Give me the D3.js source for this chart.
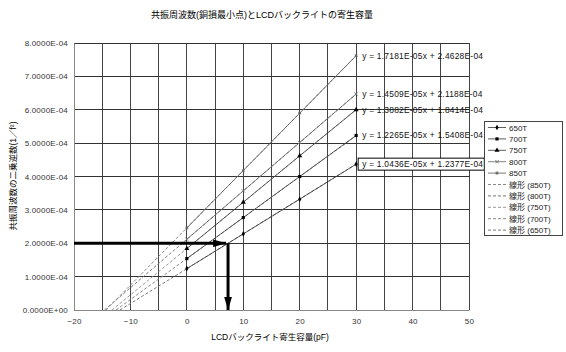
<!DOCTYPE html>
<html lang="ja">
<head>
    <meta charset="UTF-8">
    <script src="https://cdnjs.cloudflare.com/ajax/libs/d3/7.8.5/d3.min.js"></script>
    <style>
        body { margin: 0; background: #fff; }
        svg { font-family: "Liberation Sans", "Noto Sans CJK JP", sans-serif; }
    </style>
</head>
<body>
<svg id="chart" width="566" height="352"></svg>
<script>
    // values
    const capacitance = [0, 10, 20, 30];
    const seriesNames = ["650T", "700T", "750T", "800T", "850T"];
    const v650 = [1.24e-4, 2.28e-4, 3.32e-4, 4.37e-4];
    const v700 = [1.54e-4, 2.77e-4, 4.00e-4, 5.23e-4];
    const v750 = [1.84e-4, 3.23e-4, 4.62e-4, 6.00e-4];
    const v800 = [2.12e-4, 3.57e-4, 5.02e-4, 6.47e-4];
    const v850 = [2.46e-4, 4.18e-4, 5.90e-4, 7.62e-4];
    // trend line coefficients (slope, intercept) as printed on the chart
    const slopes = [1.0436e-5, 1.2265e-5, 1.3882e-5, 1.4509e-5, 1.7181e-5];
    const intercepts = [1.2377e-4, 1.5408e-4, 1.8414e-4, 2.1188e-4, 2.4628e-4];
    const eqLabels = [
        "y = 1.0436E-05x + 1.2377E-04",
        "y = 1.2265E-05x + 1.5408E-04",
        "y = 1.3882E-05x + 1.8414E-04",
        "y = 1.4509E-05x + 2.1188E-04",
        "y = 1.7181E-05x + 2.4628E-04"
    ];
    const xTicks = [-20, -10, 0, 10, 20, 30, 40, 50];
    const xGrid = d3.range(-20, 51, 5);
    const yTicks = [0, 1e-4, 2e-4, 3e-4, 4e-4, 5e-4, 6e-4, 7e-4, 8e-4];
    // guide arrow: 2.0E-04 meets the 650T fit
    const guideY = 2e-4;
    const guideX = 7.3;

    const allValues = [v650, v700, v750, v800, v850];

    const svg = d3.select("#chart");
    const x = d3.scaleLinear().domain([-20, 50]).range([74, 469]);
    const y = d3.scaleLinear().domain([0, 8e-4]).range([310, 43]);

    const fmtE = v => {
        const s = v.toExponential(4).toUpperCase();
        const [m, e] = s.split("E");
        const sign = e[0] === "-" ? "-" : "+";
        const n = Math.abs(+e);
        return m + "E" + sign + (n < 10 ? "0" + n : n);
    };

    // title
    svg.append("text")
        .attr("x", 262).attr("y", 18)
        .attr("text-anchor", "middle")
        .attr("font-size", 9)
        .text("共振周波数(銅損最小点)とLCDバックライトの寄生容量");

    // grid
    svg.append("g").selectAll("line.v")
        .data(xGrid).enter().append("line")
        .attr("x1", d => x(d)).attr("x2", d => x(d))
        .attr("y1", y(8e-4)).attr("y2", y(0))
        .attr("stroke", "#444").attr("stroke-width", 1)
        .attr("shape-rendering", "crispEdges");
    svg.append("g").selectAll("line.h")
        .data(yTicks).enter().append("line")
        .attr("x1", x(-20)).attr("x2", x(50))
        .attr("y1", d => y(d)).attr("y2", d => y(d))
        .attr("stroke", "#333").attr("stroke-width", 1)
        .attr("shape-rendering", "crispEdges");

    // axes
    const yAxis = d3.axisLeft(y).tickValues(yTicks).tickFormat(fmtE).tickSize(0).tickPadding(6);
    const xAxis = d3.axisBottom(x).tickValues(xTicks).tickSize(0).tickPadding(8);
    const gy = svg.append("g").attr("transform", `translate(${x(-20)},0)`).call(yAxis);
    const gx = svg.append("g").attr("transform", `translate(0,${y(0)})`).call(xAxis);
    [gx, gy].forEach(g => {
        g.select(".domain").attr("stroke", "#888");
        g.selectAll("text").attr("font-size", 8).attr("fill", "#333")
            .attr("letter-spacing", 0.2)
            .attr("font-family", "Liberation Sans, sans-serif");
    });

    svg.append("text")
        .attr("x", 270).attr("y", 340)
        .attr("text-anchor", "middle").attr("font-size", 8.5)
        .text("LCDバックライト寄生容量(pF)");
    svg.append("text")
        .attr("transform", "translate(16,176) rotate(-90)")
        .attr("text-anchor", "middle").attr("font-size", 8.5)
        .text("共振周波数の二乗逆数(1／f²)");

    // trend lines (dashed)
    const dashColors = ["#777", "#888", "#999", "#777", "#888"];
    seriesNames.forEach((n, i) => {
        const x0 = -intercepts[i] / slopes[i];
        svg.append("line")
            .attr("x1", x(x0)).attr("y1", y(0))
            .attr("x2", x(30)).attr("y2", y(slopes[i] * 30 + intercepts[i]))
            .attr("stroke", dashColors[i]).attr("stroke-width", 1)
            .attr("stroke-dasharray", "3,2");
    });

    // data lines
    const line = d3.line().x((d, i) => x(capacitance[i])).y(d => y(d));
    const lineColors = ["#333", "#333", "#333", "#666", "#555"];
    allValues.forEach((vals, i) => {
        svg.append("path")
            .attr("d", line(vals))
            .attr("fill", "none")
            .attr("stroke", lineColors[i]).attr("stroke-width", 0.8);
    });

    // markers
    const symTimes = d3.symbolTimes || d3.symbolCross;
    const symStar = d3.symbolAsterisk || d3.symbolStar;
    const markers = [
        { type: d3.symbolDiamond, size: 9, fill: "#000", stroke: "none" },
        { type: d3.symbolSquare, size: 10, fill: "#000", stroke: "none" },
        { type: d3.symbolTriangle, size: 11, fill: "#000", stroke: "none" },
        { type: symTimes, size: 8, fill: "none", stroke: "#777" },
        { type: symStar, size: 8, fill: "none", stroke: "#666" }
    ];
    const drawMarker = (g, m, cx, cy) => {
        g.append("path")
            .attr("d", d3.symbol().type(m.type).size(m.size)())
            .attr("transform", `translate(${cx},${cy})`)
            .attr("fill", m.fill).attr("stroke", m.stroke).attr("stroke-width", 1);
    };
    allValues.forEach((vals, i) => {
        vals.forEach((v, j) => drawMarker(svg, markers[i], x(capacitance[j]), y(v)));
    });

    // equation labels
    eqLabels.forEach((t, i) => {
        const lg = svg.append("g");
        const txt = lg.append("text")
            .attr("x", x(30) + 6).attr("y", y(allValues[i][3]) + 3)
            .attr("font-size", 8.4).attr("letter-spacing", 0.25).attr("fill", "#111")
            .text(t);
        if (i === 0) {
            const bb = txt.node().getBBox();
            lg.insert("rect", "text")
                .attr("x", bb.x - 4).attr("y", bb.y - 1)
                .attr("width", bb.width + 5).attr("height", bb.height + 2)
                .attr("fill", "#fff").attr("stroke", "#000").attr("stroke-width", 1);
        }
    });

    // guide arrows
    const defs = svg.append("defs");
    defs.append("marker")
        .attr("id", "head").attr("viewBox", "0 0 10 6")
        .attr("refX", 10).attr("refY", 3)
        .attr("markerWidth", 4.3).attr("markerHeight", 2.6)
        .attr("markerUnits", "strokeWidth")
        .attr("orient", "auto")
        .append("path").attr("d", "M0,0 L10,3 L0,6 Z").attr("fill", "#000");
    svg.append("line")
        .attr("x1", x(-20)).attr("y1", y(guideY))
        .attr("x2", x(guideX) - 2).attr("y2", y(guideY))
        .attr("stroke", "#000").attr("stroke-width", 3)
        .attr("marker-end", "url(#head)");
    svg.append("line")
        .attr("x1", x(guideX)).attr("y1", y(guideY))
        .attr("x2", x(guideX)).attr("y2", y(0))
        .attr("stroke", "#000").attr("stroke-width", 3)
        .attr("marker-end", "url(#head)");

    // legend
    const lg = svg.append("g").attr("transform", "translate(484,121)");
    lg.append("rect").attr("width", 78).attr("height", 114)
        .attr("fill", "#fff").attr("stroke", "#444").attr("stroke-width", 1)
        .attr("shape-rendering", "crispEdges");
    const legendItems = seriesNames.map((n, i) => ({ label: n, kind: "data", i }))
        .concat(seriesNames.slice().reverse().map((n, k) => ({ label: "線形 (" + n + ")", kind: "trend", i: 4 - k })));
    legendItems.forEach((it, k) => {
        const ly = 6.5 + k * 11.4;
        if (it.kind === "data") {
            lg.append("line").attr("x1", 4).attr("x2", 22).attr("y1", ly).attr("y2", ly)
                .attr("stroke", lineColors[it.i]).attr("stroke-width", 0.8);
            drawMarker(lg, markers[it.i], 13, ly);
        } else {
            lg.append("line").attr("x1", 4).attr("x2", 22).attr("y1", ly).attr("y2", ly)
                .attr("stroke", dashColors[it.i]).attr("stroke-width", 1)
                .attr("stroke-dasharray", "3,2");
        }
        lg.append("text").attr("x", 25).attr("y", ly + 3)
            .attr("font-size", 8).attr("fill", "#222")
            .text(it.label);
    });
</script>
</body>
</html>
